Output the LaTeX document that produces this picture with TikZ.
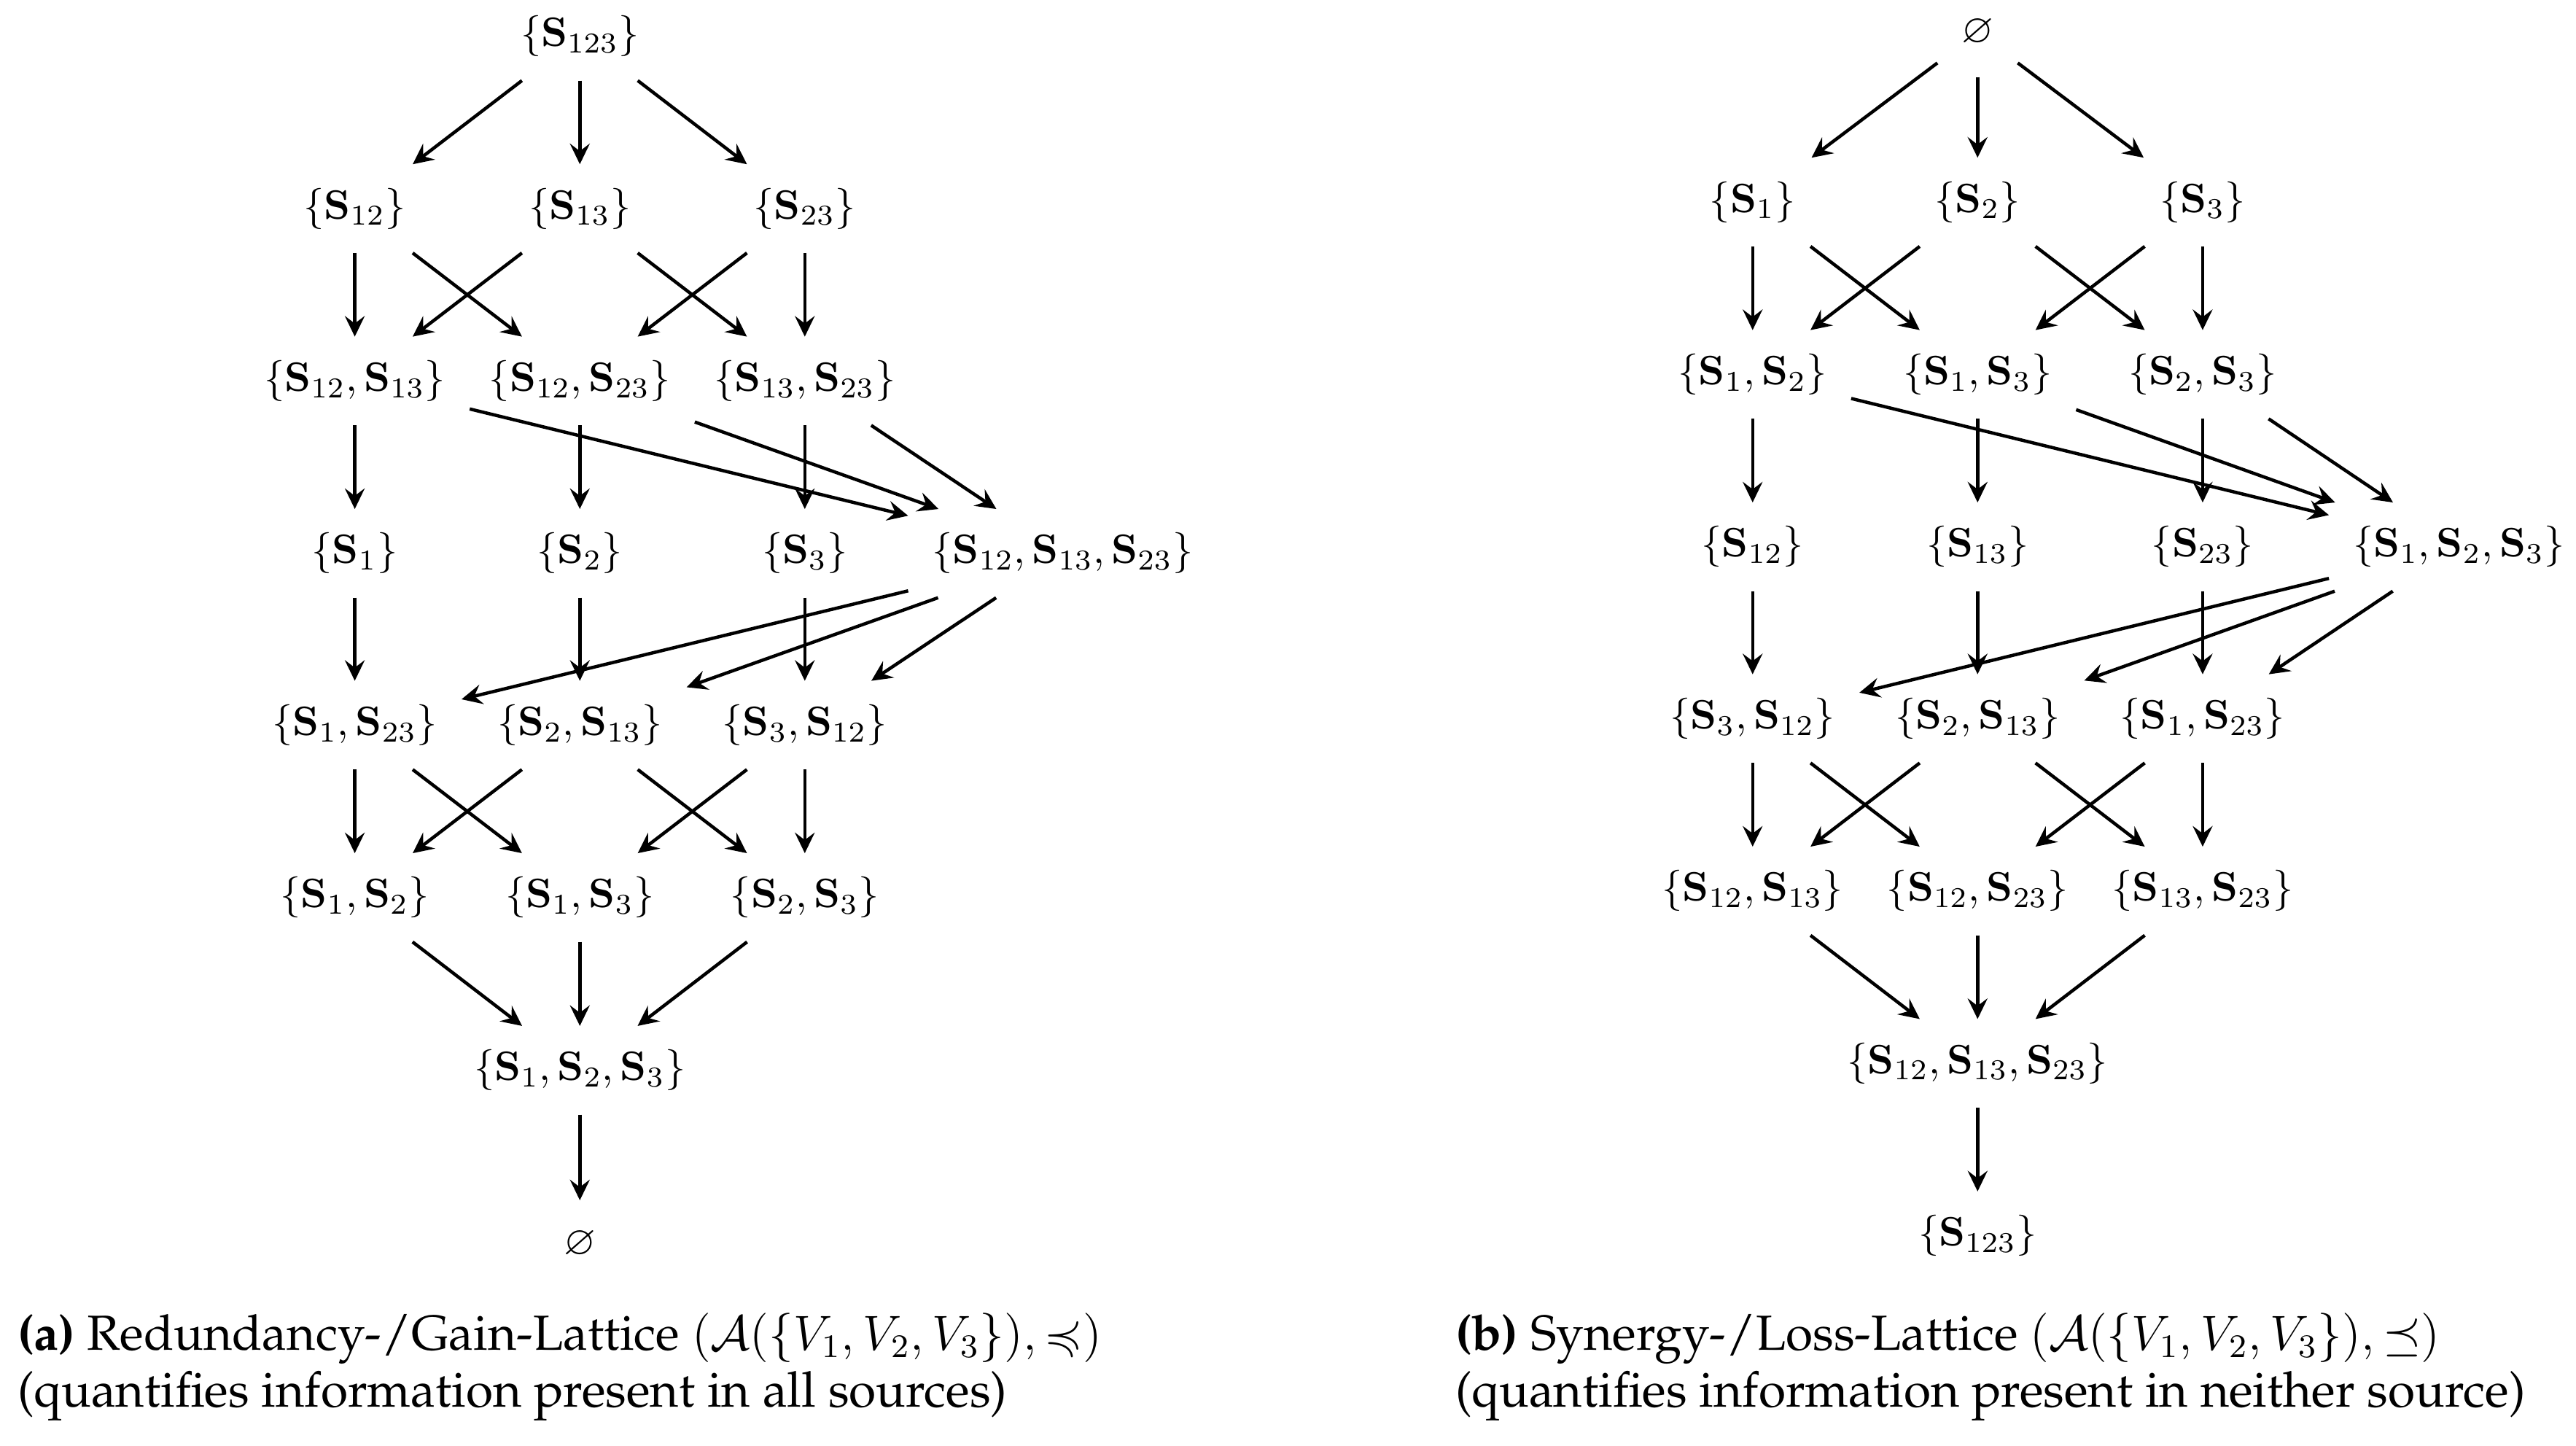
\documentclass[tikz,border=0pt]{standalone}
\usepackage[OT1]{fontenc}
\renewcommand{\rmdefault}{ppl}
\usepackage{amssymb}
\usetikzlibrary{arrows.meta}

\tikzset{
  lat/.style={inner xsep=5.5pt, minimum height=20.8pt, text height=7.5pt, text depth=2.5pt},
  subcap/.style={anchor=base west, align=left, inner sep=0pt, font=\fontsize{12pt}{13.9pt}\selectfont}
}

\begin{document}
\begin{tikzpicture}[thick, >={Stealth[length=5pt,width=4.8pt,inset=1.8pt]}]
    \useasboundingbox (0,0) rectangle (22.044,-12.372);
    % (a) Redundancy lattice
    \node[lat] (L123) at (4.962,-0.31) {$\{\mathbf{S}_{123}\}$};
    \node[lat] (L12) at (3.036,-1.785) {$\{\mathbf{S}_{12}\}$};
    \node[lat] (L13) at (4.962,-1.785) {$\{\mathbf{S}_{13}\}$};
    \node[lat] (L23) at (6.887,-1.785) {$\{\mathbf{S}_{23}\}$};
    \node[lat] (L12x13) at (3.036,-3.26) {$\{\mathbf{S}_{12},\mathbf{S}_{13}\}$};
    \node[lat] (L12x23) at (4.962,-3.26) {$\{\mathbf{S}_{12},\mathbf{S}_{23}\}$};
    \node[lat] (L13x23) at (6.887,-3.26) {$\{\mathbf{S}_{13},\mathbf{S}_{23}\}$};
    \node[lat] (L1) at (3.036,-4.735) {$\{\mathbf{S}_{1}\}$};
    \node[lat] (L2) at (4.962,-4.735) {$\{\mathbf{S}_{2}\}$};
    \node[lat] (L3) at (6.887,-4.735) {$\{\mathbf{S}_{3}\}$};
    \node[lat] (L12x13x23) at (9.094,-4.735) {$\{\mathbf{S}_{12},\mathbf{S}_{13},\mathbf{S}_{23}\}$};
    \node[lat] (L1x23) at (3.036,-6.205) {$\{\mathbf{S}_{1},\mathbf{S}_{23}\}$};
    \node[lat] (L2x13) at (4.962,-6.205) {$\{\mathbf{S}_{2},\mathbf{S}_{13}\}$};
    \node[lat] (L3x12) at (6.887,-6.205) {$\{\mathbf{S}_{3},\mathbf{S}_{12}\}$};
    \node[lat] (L1x2) at (3.036,-7.68) {$\{\mathbf{S}_{1},\mathbf{S}_{2}\}$};
    \node[lat] (L1x3) at (4.962,-7.68) {$\{\mathbf{S}_{1},\mathbf{S}_{3}\}$};
    \node[lat] (L2x3) at (6.887,-7.68) {$\{\mathbf{S}_{2},\mathbf{S}_{3}\}$};
    \node[lat] (L1x2x3) at (4.962,-9.158) {$\{\mathbf{S}_{1},\mathbf{S}_{2},\mathbf{S}_{3}\}$};
    \node[lat] (Lempty) at (4.962,-10.65) {$\varnothing$};
    \draw[->] (L123) edge (L12) edge (L13) edge (L23);
    \draw[->] (L12) edge (L12x13) edge (L12x23);
    \draw[->] (L13) edge (L12x13) edge (L13x23);
    \draw[->] (L23) edge (L12x23) edge (L13x23);
    \draw[->] (L12x13) edge (L1) edge (L12x13x23);
    \draw[->] (L12x23) edge (L2) edge (L12x13x23);
    \draw[->] (L13x23) edge (L3) edge (L12x13x23);
    \draw[->] (L1) edge (L1x23);
    \draw[->] (L2) edge (L2x13);
    \draw[->] (L3) edge (L3x12);
    \draw[->] (L12x13x23) edge (L1x23) edge (L2x13) edge (L3x12);
    \draw[->] (L1x23) edge (L1x2) edge (L1x3);
    \draw[->] (L2x13) edge (L1x2) edge (L2x3);
    \draw[->] (L3x12) edge (L1x3) edge (L2x3);
    \draw[->] (L1x2) edge (L1x2x3);
    \draw[->] (L1x3) edge (L1x2x3);
    \draw[->] (L2x3) edge (L1x2x3);
    \draw[->] (L1x2x3) edge (Lempty);
    \node[subcap] (capA) at (0.136,-12.042) {\textbf{(a)} Redundancy-/Gain-Lattice $(\mathcal{A}(\{V_1,V_2,V_3\}), \preccurlyeq)$\\(quantifies information present in all sources)};
    % (b) Synergy lattice
    \node[lat] (Rempty) at (16.923,-0.28) {$\varnothing$};
    \node[lat] (R1) at (14.998,-1.729) {$\{\mathbf{S}_{1}\}$};
    \node[lat] (R2) at (16.923,-1.729) {$\{\mathbf{S}_{2}\}$};
    \node[lat] (R3) at (18.849,-1.729) {$\{\mathbf{S}_{3}\}$};
    \node[lat] (R1x2) at (14.998,-3.204) {$\{\mathbf{S}_{1},\mathbf{S}_{2}\}$};
    \node[lat] (R1x3) at (16.923,-3.204) {$\{\mathbf{S}_{1},\mathbf{S}_{3}\}$};
    \node[lat] (R2x3) at (18.849,-3.204) {$\{\mathbf{S}_{2},\mathbf{S}_{3}\}$};
    \node[lat] (R12) at (14.998,-4.679) {$\{\mathbf{S}_{12}\}$};
    \node[lat] (R13) at (16.923,-4.679) {$\{\mathbf{S}_{13}\}$};
    \node[lat] (R23) at (18.849,-4.679) {$\{\mathbf{S}_{23}\}$};
    \node[lat] (R1x2x3) at (21.042,-4.679) {$\{\mathbf{S}_{1},\mathbf{S}_{2},\mathbf{S}_{3}\}$};
    \node[lat] (R3x12) at (14.998,-6.149) {$\{\mathbf{S}_{3},\mathbf{S}_{12}\}$};
    \node[lat] (R2x13) at (16.923,-6.149) {$\{\mathbf{S}_{2},\mathbf{S}_{13}\}$};
    \node[lat] (R1x23) at (18.849,-6.149) {$\{\mathbf{S}_{1},\mathbf{S}_{23}\}$};
    \node[lat] (R12x13) at (14.998,-7.624) {$\{\mathbf{S}_{12},\mathbf{S}_{13}\}$};
    \node[lat] (R12x23) at (16.923,-7.624) {$\{\mathbf{S}_{12},\mathbf{S}_{23}\}$};
    \node[lat] (R13x23) at (18.849,-7.624) {$\{\mathbf{S}_{13},\mathbf{S}_{23}\}$};
    \node[lat] (R12x13x23) at (16.923,-9.099) {$\{\mathbf{S}_{12},\mathbf{S}_{13},\mathbf{S}_{23}\}$};
    \node[lat] (R123) at (16.923,-10.574) {$\{\mathbf{S}_{123}\}$};
    \draw[->] (Rempty) edge (R1) edge (R2) edge (R3);
    \draw[->] (R1) edge (R1x2) edge (R1x3);
    \draw[->] (R2) edge (R1x2) edge (R2x3);
    \draw[->] (R3) edge (R1x3) edge (R2x3);
    \draw[->] (R1x2) edge (R12) edge (R1x2x3);
    \draw[->] (R1x3) edge (R13) edge (R1x2x3);
    \draw[->] (R2x3) edge (R23) edge (R1x2x3);
    \draw[->] (R12) edge (R3x12);
    \draw[->] (R13) edge (R2x13);
    \draw[->] (R23) edge (R1x23);
    \draw[->] (R1x2x3) edge (R3x12) edge (R2x13) edge (R1x23);
    \draw[->] (R3x12) edge (R12x13) edge (R12x23);
    \draw[->] (R2x13) edge (R12x13) edge (R13x23);
    \draw[->] (R1x23) edge (R12x23) edge (R13x23);
    \draw[->] (R12x13) edge (R12x13x23);
    \draw[->] (R12x23) edge (R12x13x23);
    \draw[->] (R13x23) edge (R12x13x23);
    \draw[->] (R12x13x23) edge (R123);
    \node[subcap] (capB) at (12.44,-12.042) {\textbf{(b)} Synergy-/Loss-Lattice $(\mathcal{A}(\{V_1,V_2,V_3\}), \preceq)$\\(quantifies information present in neither source)};
\end{tikzpicture}
\end{document}
